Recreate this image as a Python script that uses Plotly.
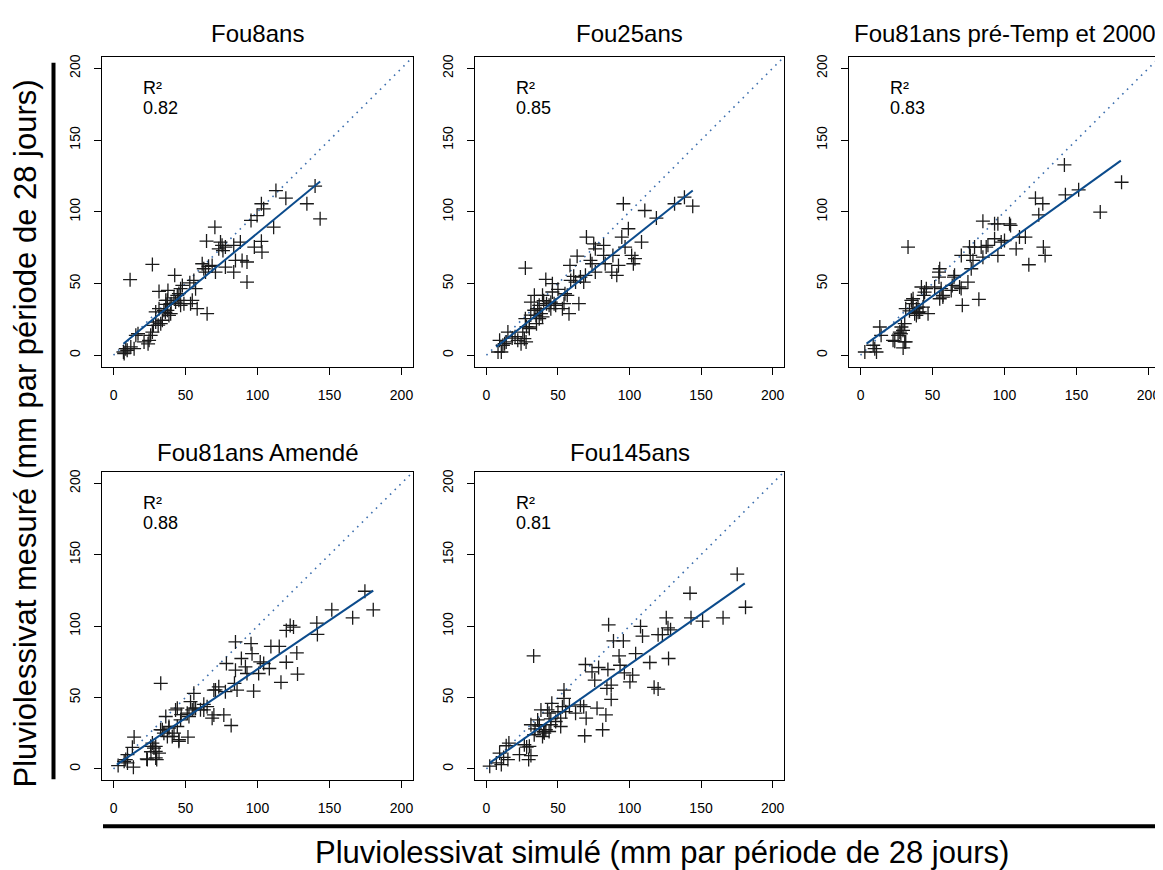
import plotly.graph_objects as go

titles = ["Fou8ans", "Fou25ans", "Fou81ans pré-Temp et 2000", "Fou81ans Amendé", "Fou145ans"]
r2_values = ["0.82", "0.85", "0.83", "0.88", "0.81"]

fou8ans = [(11.5, 52.7), (27.0, 63.3), (6.9, 2.3), (8.5, 4.6), (12.0, 5.8), (14.3, 4.6), (7.4, 1.2), (9.5, 3.5),
           (15.5, 13.9), (17.0, 15.0), (21.2, 9.3), (24.7, 10.4), (25.8, 13.9), (27.0, 16.2), (24.0, 8.0),
           (27.7, 20.9), (29.3, 23.2), (32.8, 22.0), (33.9, 24.4), (31.0, 21.0), (29.3, 30.2), (31.6, 32.5),
           (35.0, 31.3), (37.4, 31.3), (39.7, 29.0), (38.5, 27.8), (36.0, 30.0), (31.6, 44.5), (37.8, 45.2),
           (37.4, 38.3), (36.3, 38.3), (42.5, 55.7), (44.3, 41.8), (45.4, 38.3), (46.6, 34.8), (43.1, 37.1),
           (48.9, 36.0), (47.8, 48.7), (46.6, 46.4), (45.4, 43.0), (53.5, 36.0), (54.7, 38.3), (55.8, 52.2),
           (57.0, 46.4), (58.1, 32.5), (65.0, 29.0), (61.6, 63.8), (62.7, 60.3), (63.9, 58.0), (68.5, 62.6),
           (70.8, 58.0), (66.0, 62.0), (64.6, 79.6), (70.4, 89.3), (74.3, 78.9), (75.4, 76.6), (73.1, 74.2),
           (77.7, 75.4), (76.0, 73.0), (83.5, 76.6), (77.7, 61.5), (83.5, 58.0), (84.7, 66.1), (88.1, 78.9),
           (89.3, 66.1), (92.7, 65.0), (92.7, 51.0), (95.5, 94.0), (99.7, 97.4), (97.8, 75.4), (102.7, 79.4),
           (103.1, 71.9), (102.7, 105.6), (104.3, 102.1), (111.2, 89.3), (112.8, 114.8), (119.7, 109.5),
           (134.3, 105.6), (140.0, 117.9), (143.5, 95.1), (40.0, 36.0), (42.0, 40.0), (53.0, 50.5), (36.5, 35.5)]

fou25ans = [(27.2, 60.8), (8.1, 2.3), (10.4, 2.3), (9.2, 10.4), (11.5, 7.0), (15.0, 16.2), (12.7, 8.1), (21.9, 10.4),
            (24.2, 8.1), (26.5, 11.6), (27.7, 9.3), (25.4, 16.2), (27.2, 25.5), (30.0, 19.7), (31.1, 37.1),
            (33.5, 41.8), (39.2, 41.8), (34.6, 27.8), (35.8, 32.5), (36.9, 25.5), (38.1, 29.0), (39.2, 26.7),
            (41.5, 52.9), (46.1, 49.9), (43.8, 34.8), (45.0, 32.5), (47.3, 36.0), (46.1, 44.1), (48.4, 34.8),
            (53.1, 32.5), (54.2, 36.0), (54.9, 42.9), (56.5, 41.8), (57.7, 29.0), (58.4, 62.6), (58.9, 52.2),
            (63.4, 69.1), (64.6, 36.0), (65.7, 54.5), (68.0, 51.0), (69.2, 55.7), (72.7, 66.1), (73.8, 63.8),
            (69.9, 82.4), (75.0, 77.7), (76.1, 74.2), (76.1, 58.0), (81.9, 76.6), (81.9, 69.6), (83.0, 63.8),
            (87.6, 58.0), (91.1, 55.7), (92.3, 62.6), (88.4, 69.6), (94.6, 82.4), (96.9, 75.4), (95.7, 105.6),
            (99.2, 88.2), (101.5, 69.6), (103.8, 67.3), (102.7, 63.8), (108.4, 78.9), (110.7, 100.9),
            (118.8, 95.6), (131.5, 105.6), (138.4, 110.2), (144.2, 103.9), (13.8, 9.3), (33.4, 31.4),
            (30.0, 18.6), (36.9, 34.8), (62.3, 51.0), (45.0, 37.0), (35.0, 22.0), (20.0, 13.0), (40.0, 38.0),
            (50.0, 46.0), (31.0, 28.0), (28.0, 20.0), (42.0, 36.0), (18.0, 12.0), (61.0, 55.0)]

fou81_pre = [(33.0, 75.4), (3.0, 2.3), (8.8, 7.0), (9.9, 4.6), (11.1, 2.3), (13.4, 19.7), (14.3, 13.9), (23.8, 9.7),
             (29.6, 5.1), (31.4, 9.3), (27.3, 16.2), (28.4, 19.7), (30.7, 22.0), (26.1, 13.9), (31.4, 32.5),
             (35.3, 38.3), (36.5, 39.4), (37.6, 29.0), (38.8, 27.8), (39.9, 33.6), (41.1, 30.2), (43.4, 33.6),
             (42.3, 47.6), (43.9, 41.8), (45.7, 46.4), (46.9, 29.0), (51.5, 47.6), (54.5, 58.0), (55.0, 60.3),
             (54.5, 54.5), (55.0, 39.4), (57.3, 41.8), (63.0, 45.2), (63.7, 48.7), (64.9, 54.5), (68.8, 47.6),
             (70.7, 34.8), (70.0, 69.6), (74.6, 51.0), (76.2, 69.6), (76.9, 60.3), (78.1, 66.1), (79.2, 75.4),
             (82.2, 39.0), (85.0, 93.5), (83.8, 75.4), (85.0, 68.4), (87.3, 75.4), (88.5, 76.6), (93.1, 91.6),
             (93.1, 81.2), (95.4, 91.6), (95.4, 69.6), (97.7, 78.9), (100.0, 80.0), (103.5, 91.6), (104.2, 90.5),
             (108.1, 74.2), (110.4, 82.4), (114.5, 82.4), (116.9, 63.1), (121.5, 109.5), (123.8, 97.9),
             (126.6, 105.6), (127.0, 75.4), (128.2, 69.6), (141.6, 132.7), (142.3, 111.8), (151.5, 115.3),
             (166.5, 99.8), (181.3, 120.6), (22.6, 10.4), (29.5, 17.4), (30.7, 9.3), (36.4, 36.0), (38.8, 32.5),
             (44.5, 44.0), (56.0, 46.4), (57.2, 40.6), (65.3, 55.7), (69.9, 46.5), (75.7, 75.5), (34.0, 31.0),
             (28.0, 15.0), (40.0, 30.0)]

fou81_amende = [(32.8, 59.9), (3.2, 2.3), (7.4, 5.3), (9.7, 10.0), (9.7, 4.2), (13.8, 1.2), (13.1, 15.1), (14.3, 22.3),
                (23.1, 7.0), (25.8, 15.8), (28.1, 14.6), (29.3, 12.3), (30.0, 6.5), (31.6, 11.1), (27.0, 18.1),
                (33.9, 27.4), (36.3, 36.7), (37.4, 22.7), (38.5, 29.7), (40.8, 22.7), (42.0, 25.1), (43.1, 41.3),
                (44.3, 42.5), (45.4, 20.4), (46.6, 34.3), (44.3, 29.7), (51.2, 39.0), (52.4, 36.7), (51.7, 22.3),
                (54.7, 41.3), (55.8, 52.9), (57.0, 42.5), (62.7, 41.3), (65.0, 43.6), (68.5, 35.5), (69.7, 37.8),
                (76.6, 37.8), (81.7, 30.4), (69.7, 55.2), (73.1, 57.5), (77.7, 54.1), (78.4, 73.8), (84.0, 59.9),
                (84.7, 88.9), (84.7, 69.1), (85.8, 55.2), (88.8, 77.3), (91.6, 71.5), (92.7, 66.8), (95.5, 87.7),
                (96.2, 80.7), (97.3, 54.5), (100.8, 66.8), (101.9, 74.9), (104.3, 73.8), (108.2, 70.3),
                (109.3, 85.8), (115.1, 85.8), (116.3, 60.6), (120.0, 74.7), (120.0, 97.0), (122.7, 100.5),
                (125.0, 99.3), (127.3, 81.2), (127.8, 66.4), (141.2, 102.1), (141.6, 94.2), (151.6, 111.4),
                (166.1, 105.8), (174.6, 124.4), (180.4, 111.4), (8.5, 6.5), (23.5, 6.5), (29.3, 15.8), (29.3, 7.7),
                (32.7, 27.4), (38.5, 28.6), (45.4, 19.3), (53.5, 47.1), (55.8, 42.5), (60.4, 41.4), (62.7, 45.2),
                (70.8, 55.3), (26.0, 12.0), (35.0, 25.0), (47.0, 38.0)]

fou145ans = [(33.0, 79.1), (2.3, 1.9), (6.9, 4.2), (9.2, 11.1), (10.4, 3.0), (13.8, 16.2), (15.0, 6.5), (15.7, 18.1),
             (23.1, 10.0), (26.5, 16.9), (28.1, 15.3), (29.5, 6.5), (31.1, 9.3), (30.0, 15.8), (31.1, 30.9),
             (33.4, 23.9), (35.8, 34.3), (36.9, 30.9), (38.1, 41.3), (39.2, 22.7), (40.4, 25.1), (41.5, 27.4),
             (42.7, 41.3), (43.8, 39.0), (45.0, 30.9), (45.7, 45.9), (43.8, 26.2), (48.4, 33.2), (51.9, 29.7),
             (53.1, 43.6), (54.2, 49.4), (54.2, 55.2), (55.4, 40.1), (51.9, 35.5), (62.3, 39.0), (65.7, 44.8),
             (68.0, 43.6), (68.7, 23.2), (69.7, 35.5), (69.2, 73.1), (73.8, 68.0), (75.7, 62.2), (77.3, 42.5),
             (78.4, 71.0), (81.2, 27.4), (83.5, 37.8), (84.2, 56.4), (84.9, 69.6), (85.4, 100.9), (87.2, 58.7),
             (87.2, 48.7), (88.8, 89.6), (92.7, 79.1), (93.4, 72.6), (95.7, 89.6), (96.4, 67.3), (100.3, 61.0),
             (102.2, 65.7), (104.3, 80.7), (107.7, 99.8), (109.1, 93.0), (114.2, 74.5), (117.2, 57.1),
             (120.0, 55.9), (120.0, 94.0), (123.0, 94.0), (125.7, 105.8), (126.9, 98.8), (128.7, 97.4),
             (127.3, 77.3), (142.3, 123.0), (143.0, 105.8), (151.1, 103.5), (165.4, 105.8), (175.3, 136.4),
             (181.1, 113.2), (37.0, 30.0), (40.0, 26.0), (45.0, 35.0), (50.0, 40.0), (58.0, 44.0), (34.0, 28.0),
             (12.0, 8.0)]

# fitted curves (start / end)
fit_x = [[6.9, 143.5], [6.9, 144.2], [4.2, 180.8], [2.3, 180.4], [2.3, 180.6]]
fit_y = [[8.1, 121.1], [5.8, 114.8], [8.1, 135.7], [3.0, 124.8], [4.2, 129.9]]
identity = [0, 215]
ticks = [0, 50, 100, 150, 200]

# the page body has an 8px margin, so the figure is a bit smaller and everything shifts by 8px
OFF = 8
W, H = 1163 - OFF, 870 - OFF
def fx(px):
    return (px - OFF) / W
def fy(py):
    return 1 - (py - OFF) / H

cols = [(102, 413), (475, 784), (849, 1160)]
rows = [(54, 365), (470.5, 780)]
title_y = [31, 451]
FONT = "Liberation Sans, Arial, sans-serif"

fig = go.Figure()
data = [fou8ans, fou25ans, fou81_pre, fou81_amende, fou145ans]
annotations = []
for i, pts in enumerate(data):
    n = "" if i == 0 else str(i + 1)
    r, c = divmod(i, 3)
    xs = [p[0] for p in pts]
    ys = [p[1] for p in pts]
    fig.add_trace(go.Scatter(x=identity, y=identity, mode="lines", xaxis="x" + n, yaxis="y" + n,
                             line=dict(color="#3d6fae", width=1.6, dash="1.6px,5px"), showlegend=False))
    fig.add_trace(go.Scatter(x=xs, y=ys, mode="markers", xaxis="x" + n, yaxis="y" + n,
                             marker=dict(symbol="cross-thin", size=10,
                                         line=dict(width=1.3, color="#1a1a1a")),
                             showlegend=False))
    fig.add_trace(go.Scatter(x=fit_x[i], y=fit_y[i], mode="lines", xaxis="x" + n, yaxis="y" + n,
                             line=dict(color="#0b4b8c", width=2), showlegend=False))

    axis = dict(range=[-8, 208], tickvals=ticks, ticks="outside", ticklen=7, tickwidth=1,
                tickcolor="black", showline=True, linecolor="black", linewidth=1, mirror=True,
                showgrid=False, zeroline=False,
                tickfont=dict(family=FONT, size=14, color="black"))
    x0, x1 = cols[c]
    y0, y1 = rows[r]
    fig.layout["xaxis" + n] = dict(axis, domain=[fx(x0), fx(x1)], anchor="y" + n, ticklabelstandoff=8)
    fig.layout["yaxis" + n] = dict(axis, domain=[fy(y1), fy(y0)], anchor="x" + n,
                                   tickangle=-90, ticklabelstandoff=8)

    annotations.append(dict(text=titles[i], xref="paper", yref="paper", x=fx((x0 + x1) / 2),
                            y=fy(title_y[r]), showarrow=False, xanchor="center", yanchor="middle",
                            font=dict(family=FONT, size=24, color="black")))
    annotations.append(dict(text="R²", xref="x" + n, yref="y" + n, x=19, y=186, showarrow=False,
                            xanchor="left", yanchor="middle", font=dict(family=FONT, size=18, color="black")))
    annotations.append(dict(text=r2_values[i], xref="x" + n, yref="y" + n, x=19, y=172, showarrow=False,
                            xanchor="left", yanchor="middle", font=dict(family=FONT, size=18, color="black")))

annotations.append(dict(text="Pluviolessivat mesuré (mm par période de 28 jours)", xref="paper", yref="paper",
                        x=fx(26), y=fy(432), textangle=-90, showarrow=False,
                        xanchor="center", yanchor="middle",
                        font=dict(family=FONT, size=31, color="black")))
annotations.append(dict(text="Pluviolessivat simulé (mm par période de 28 jours)", xref="paper", yref="paper",
                        x=fx(662), y=fy(852), showarrow=False, xanchor="center", yanchor="middle",
                        font=dict(family=FONT, size=31, color="black")))

fig.update_layout(
    width=W, height=H, margin=dict(l=0, r=0, t=0, b=0),
    paper_bgcolor="white", plot_bgcolor="white",
    annotations=annotations,
    shapes=[
        dict(type="line", xref="paper", yref="paper", x0=fx(53.5), x1=fx(53.5), y0=fy(60), y1=fy(779),
             line=dict(color="black", width=4)),
        dict(type="line", xref="paper", yref="paper", x0=fx(103), x1=1, y0=fy(826), y1=fy(826),
             line=dict(color="black", width=4)),
    ],
)

fig.write_html("out.html")
